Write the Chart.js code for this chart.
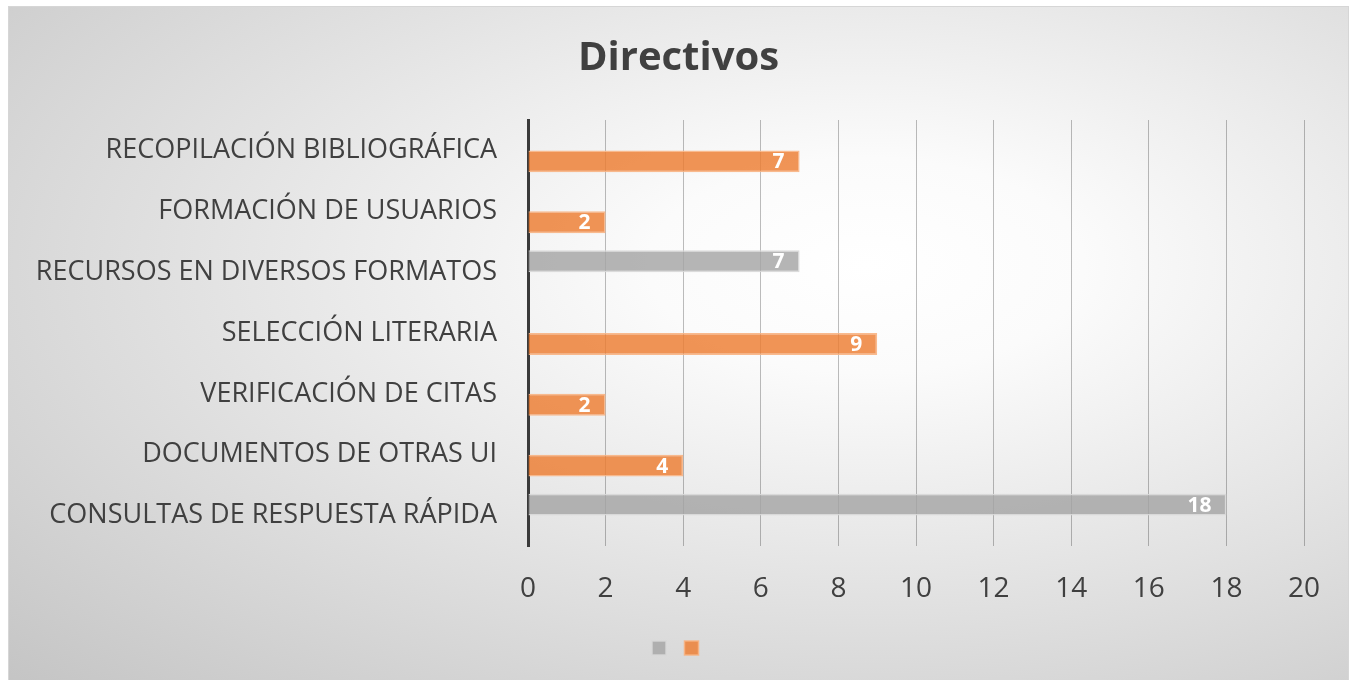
<!DOCTYPE html>
<html>
<head>
<meta charset="utf-8">
<script src="https://cdn.jsdelivr.net/npm/chart.js@4.4.1/dist/chart.umd.min.js"></script>
<style>
  html, body { margin: 0; padding: 0; background: #fff; }
  #card {
    position: absolute;
    left: 8px; top: 6px;
    width: 1339px; height: 680px;
    border: 1px solid #d6d6d6;
    background: radial-gradient(ellipse farthest-corner at 64% 38%, #ffffff 0%, #fbfbfb 18%, #c4c4c4 100%);
  }
  #wrap { position: absolute; left: 0; top: 0; width: 1339px; height: 674px; }
</style>
</head>
<body>
<div id="card"><div id="wrap"><canvas id="chart"></canvas></div></div>
<script>
// categories, top to bottom
const categories = [
  "RECOPILACIÓN BIBLIOGRÁFICA",
  "FORMACIÓN DE USUARIOS",
  "RECURSOS EN DIVERSOS FORMATOS",
  "SELECCIÓN LITERARIA",
  "VERIFICACIÓN DE CITAS",
  "DOCUMENTOS DE OTRAS UI",
  "CONSULTAS DE RESPUESTA RÁPIDA"
];
const grayValues = [null, null, 7, null, null, null, 18];
const orangeValues = [7, 2, null, 9, 2, 4, null];
const xTicks = [0, 2, 4, 6, 8, 10, 12, 14, 16, 18, 20];

const FONT = "'Open Sans', 'Noto Sans', sans-serif";

// white value labels inside the end of each bar
const barValues = {
  id: "barValues",
  afterDatasetsDraw(chart) {
    const ctx = chart.ctx;
    ctx.save();
    ctx.fillStyle = "#ffffff";
    ctx.font = "bold 21px " + FONT;
    ctx.textAlign = "right";
    ctx.textBaseline = "middle";
    chart.data.datasets.forEach((ds, i) => {
      const meta = chart.getDatasetMeta(i);
      meta.data.forEach((bar, j) => {
        if (ds.data[j] == null) return;
        ctx.fillText(String(ds.data[j]), bar.x - 15, bar.y + 1);
      });
    });
    ctx.restore();
  }
};

new Chart(document.getElementById("chart"), {
  type: "bar",
  data: {
    labels: categories,
    datasets: [
      {
        label: "",
        data: grayValues,
        backgroundColor: "rgba(165,165,165,0.82)",
        borderColor: "rgba(215,215,215,0.9)",
        borderWidth: 1.5
      },
      {
        label: "",
        data: orangeValues,
        backgroundColor: "rgba(237,125,49,0.82)",
        borderColor: "rgba(248,178,130,0.9)",
        borderWidth: 1.5
      }
    ]
  },
  options: {
    indexAxis: "y",
    responsive: true,
    maintainAspectRatio: false,
    animation: false,
    layout: { padding: { left: 0, right: 0, top: 0, bottom: 16 } },
    datasets: {
      bar: { categoryPercentage: 0.72, barPercentage: 1.0 }
    },
    plugins: {
      title: {
        display: true,
        text: "Directivos",
        color: "#404040",
        font: { family: FONT, size: 40, weight: "bold", lineHeight: 1.2 },
        padding: { top: 28, bottom: 37 }
      },
      legend: {
        position: "bottom",
        labels: {
          boxWidth: 14,
          boxHeight: 14,
          padding: 12,
          font: { size: 13 }
        }
      },
      tooltip: { enabled: false }
    },
    scales: {
      x: {
        min: 0,
        max: 20,
        afterBuildTicks: (scale) => {
          scale.ticks = xTicks.map((v) => ({ value: v }));
        },
        afterFit: (scale) => { scale.height = 83; },
        grid: { color: "rgba(0,0,0,0.26)", lineWidth: 1, drawTicks: false },
        border: { display: false },
        ticks: {
          color: "#404040",
          padding: 26,
          font: { family: FONT, size: 28 }
        }
      },
      y: {
        afterFit: (scale) => { scale.width = 519; },
        grid: { display: false },
        border: { display: true, color: "#3a3a3a", width: 3 },
        ticks: {
          color: "#404040",
          padding: 23,
          font: { family: FONT, size: 27 }
        }
      },
      // empty right-hand box that keeps the plot off the right edge
      spacer: {
        axis: "y",
        position: "right",
        afterFit: (scale) => { scale.width = 44; },
        grid: { display: false },
        border: { display: false },
        ticks: { display: false }
      }
    }
  },
  plugins: [barValues]
});
</script>
</body>
</html>
